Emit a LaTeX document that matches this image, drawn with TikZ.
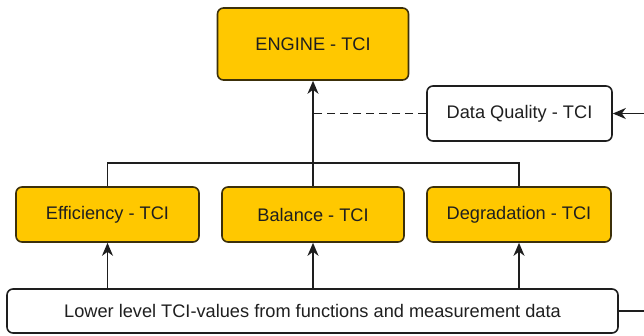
\documentclass[tikz,border=0pt]{standalone}
\usepackage{fontspec}
\setmainfont{Liberation Sans}
\usetikzlibrary{arrows.meta}
\definecolor{tciyellow}{RGB}{255,200,0}
\definecolor{tcistroke}{RGB}{60,48,10}
\definecolor{linegray}{RGB}{30,30,30}
\begin{document}
\begin{tikzpicture}[x=1pt,y=-1pt,
  box/.style={draw=linegray,line width=1.6pt,rounded corners=6pt,minimum width=#1,minimum height=55pt,inner sep=0pt,font=\fontsize{18.2}{20}\selectfont,text=black!88},
  ybox/.style={box=#1,fill=tciyellow,draw=tcistroke},
  wbox/.style={box=#1,fill=white},
  conn/.style={draw=linegray,line width=1.6pt},
  arr/.style={conn,-{Stealth[length=13pt,width=11pt,inset=4pt]}}]
\useasboundingbox (0,0) rectangle (644,335);
\node[ybox=191pt,minimum height=72pt] (eng) at (313,44) {ENGINE - TCI};
\node[wbox=185pt] (dq) at (519.5,113.5) {Data Quality - TCI};
\node[ybox=183pt] (eff) at (107.5,214.5) {Efficiency - TCI};
\node[ybox=182pt] (bal) at (313,214.5) {Balance - TCI};
\node[ybox=184pt] (deg) at (519,214.5) {Degradation - TCI};
\node[wbox=611pt,minimum height=44pt] (low) at (312.5,311) {Lower level TCI-values from functions and measurement data};
\coordinate (dqj) at (313,113.5);
\coordinate (r1) at (646,113.5);
\coordinate (r2) at (646,311);
\coordinate (hj) at (107.5,163);
\draw[conn] (eff.north) -- (hj) -| (deg.north);
\draw[arr] (bal.north) -- (eng.south);
\draw[conn,dash pattern=on 8pt off 5pt] (dq.west) -- (dqj);
\draw[arr] (r1) -- (dq.east);
\draw[conn] (low.east) -- (r2);
\draw[arr] (low.north -| eff) -- (eff.south);
\draw[arr] (low.north -| bal) -- (bal.south);
\draw[arr] (low.north -| deg) -- (deg.south);
\end{tikzpicture}
\end{document}
